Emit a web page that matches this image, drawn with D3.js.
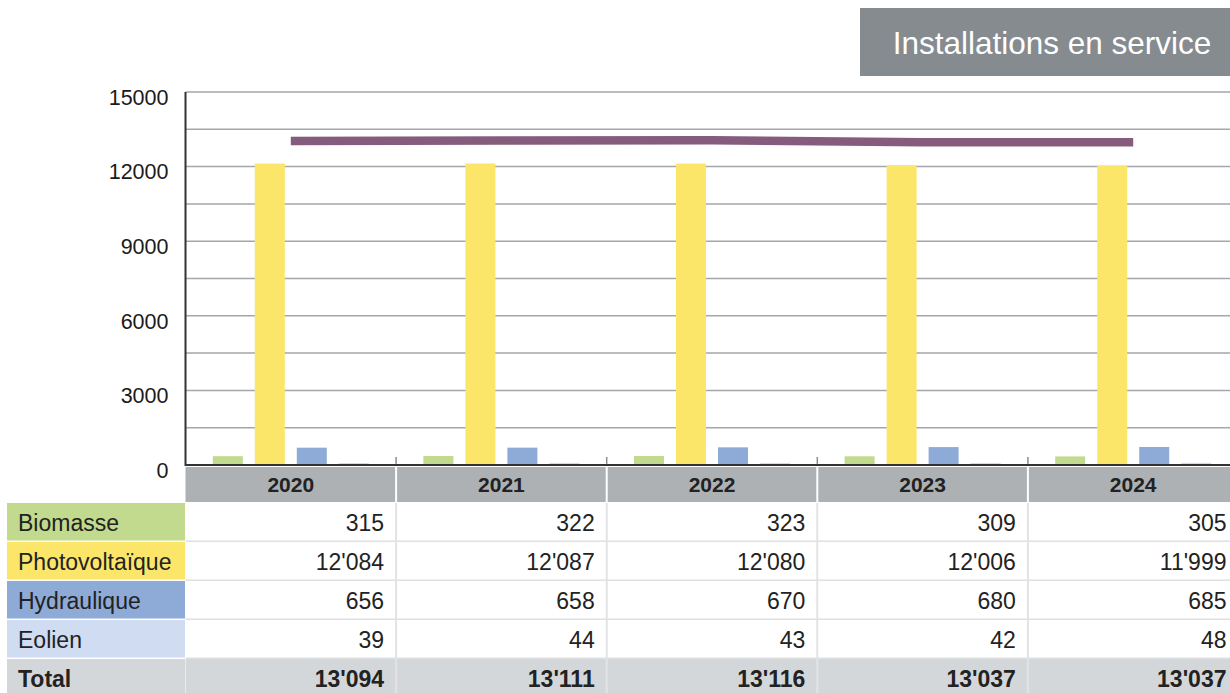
<!DOCTYPE html>
<html>
<head>
<meta charset="utf-8">
<script src="https://cdn.jsdelivr.net/npm/d3@7"></script>
<style>
  html, body { margin: 0; padding: 0; background: #ffffff; }
  svg { display: block; font-family: "Liberation Sans", Arial, sans-serif; }
</style>
</head>
<body>
<svg id="chart" width="1230" height="693"></svg>
<script>
// ---- Data ----
const years = ["2020", "2021", "2022", "2023", "2024"];
const seriesNames = ["Biomasse", "Photovoltaïque", "Hydraulique", "Eolien"];
const biomasse = [315, 322, 323, 309, 305];
const photovoltaique = [12084, 12087, 12080, 12006, 11999];
const hydraulique = [656, 658, 670, 680, 685];
const eolien = [39, 44, 43, 42, 48];
const total = [13094, 13111, 13116, 13037, 13037];
const yTickLabels = [0, 3000, 6000, 9000, 12000, 15000];
const gridValues = [0, 1500, 3000, 4500, 6000, 7500, 9000, 10500, 12000, 13500, 15000];
const title = "Installations en service";
const totalLabel = "Total";

const seriesValues = [biomasse, photovoltaique, hydraulique, eolien];
const seriesColors = ["#c1da8d", "#fbe66a", "#8eaad6", "#cfdcf2"];
const lineColor = "#855c7e";

// ---- Layout ----
const svg = d3.select("#chart");
const plotLeft = 185.5, plotRight = 1238.5, plotTop = 92, plotBottom = 465;

const x = d3.scaleBand().domain(years).range([plotLeft, plotRight]).padding(0);
const barW = 30, barStep = 42;
const groupW = barStep * (seriesNames.length - 1) + barW;
const xs = d3.scaleBand().domain(seriesNames)
  .range([(x.bandwidth() - groupW) / 2, (x.bandwidth() - groupW) / 2 + groupW])
  .paddingInner((barStep - barW) / barStep).paddingOuter(0);
const y = d3.scaleLinear().domain([0, 15000]).range([plotBottom, plotTop]);

const fmt = d3.formatLocale({ decimal: ".", thousands: "'", grouping: [3], currency: ["", ""] }).format(",d");

// Title box
svg.append("rect").attr("x", 860).attr("y", 8).attr("width", 380).attr("height", 68).attr("fill", "#868b90");
svg.append("text").attr("x", 1052).attr("y", 54).attr("text-anchor", "middle")
  .attr("fill", "#ffffff").attr("font-size", 31.5).text(title);

// Gridlines
svg.append("g").selectAll("line").data(gridValues.filter(v => v > 0)).join("line")
  .attr("x1", plotLeft).attr("x2", 1230)
  .attr("y1", d => y(d)).attr("y2", d => y(d))
  .attr("stroke", "#a3a7ab").attr("stroke-width", 1.5);

// Y axis
const yAxis = d3.axisLeft(y).tickValues(yTickLabels).tickSize(0).tickPadding(17).tickFormat(d3.format("d"));
const yg = svg.append("g").attr("transform", `translate(${plotLeft},0)`).call(yAxis);
yg.select(".domain").remove();
yg.selectAll("text").attr("font-size", 21.5).attr("fill", "#1a1a1a").attr("dy", "0.57em")
  .attr("font-family", "'Liberation Sans', Arial, sans-serif");
svg.append("line").attr("x1", plotLeft).attr("x2", plotLeft).attr("y1", plotTop).attr("y2", plotBottom + 1)
  .attr("stroke", "#333333").attr("stroke-width", 2);

// Category boundary ticks
svg.append("g").selectAll("line").data(years.slice(1)).join("line")
  .attr("x1", d => x(d)).attr("x2", d => x(d))
  .attr("y1", plotBottom - 8).attr("y2", plotBottom)
  .attr("stroke", "#8a8e92").attr("stroke-width", 1.5);

// Bars
const groups = svg.append("g").selectAll("g").data(years).join("g")
  .attr("transform", d => `translate(${x(d)},0)`);
groups.selectAll("rect").data((d, i) => seriesNames.map((s, k) => ({ s, k, v: seriesValues[k][i] }))).join("rect")
  .attr("x", d => xs(d.s)).attr("width", xs.bandwidth())
  .attr("y", d => y(d.v) - 1).attr("height", d => Math.max(1.5, plotBottom - y(d.v) + 1))
  .attr("fill", d => seriesColors[d.k]);

// Baseline
svg.append("line").attr("x1", plotLeft).attr("x2", 1230).attr("y1", plotBottom).attr("y2", plotBottom)
  .attr("stroke", "#333333").attr("stroke-width", 2);

// Total line
const line = d3.line().x((d, i) => x(years[i]) + x.bandwidth() / 2).y(d => y(d) + 1.5);
svg.append("path").datum(total).attr("d", line)
  .attr("fill", "none").attr("stroke", lineColor).attr("stroke-width", 8.5).attr("stroke-linecap", "butt");

// ---- Table ----
const headerTop = 467, headerH = 35;
const rowTop = 503, rowStep = 39, rowH = 37.5;
const labelLeft = 7;

// Header
svg.append("rect").attr("x", plotLeft).attr("y", headerTop).attr("width", plotRight - plotLeft).attr("height", headerH)
  .attr("fill", "#adb1b4");
svg.append("g").selectAll("text").data(years).join("text")
  .attr("x", d => x(d) + x.bandwidth() / 2).attr("y", headerTop + 25)
  .attr("text-anchor", "middle").attr("font-size", 21).attr("font-weight", "bold").attr("fill", "#222222")
  .text(d => d);
svg.append("g").selectAll("line").data(years.slice(1)).join("line")
  .attr("x1", d => x(d)).attr("x2", d => x(d)).attr("y1", headerTop).attr("y2", headerTop + headerH)
  .attr("stroke", "#ffffff").attr("stroke-width", 2);

const rows = seriesNames.map((s, k) => ({ label: s, values: seriesValues[k], color: seriesColors[k], bold: false }))
  .concat([{ label: totalLabel, values: total, color: "#d4d7d9", bold: true }]);

rows.forEach((r, ri) => {
  const ry = rowTop + ri * rowStep;
  // label cell
  svg.append("rect").attr("x", labelLeft).attr("y", ry).attr("width", plotLeft - labelLeft - 0.5).attr("height", rowH)
    .attr("fill", r.color);
  if (r.bold) {
    svg.append("rect").attr("x", plotLeft).attr("y", ry).attr("width", plotRight - plotLeft).attr("height", rowH + 2)
      .attr("fill", "#d4d7d9");
  }
  svg.append("text").attr("x", 18).attr("y", ry + 27.5).attr("font-size", 23)
    .attr("font-weight", r.bold ? "bold" : "normal").attr("fill", "#222222").text(r.label);
  svg.append("g").selectAll("text").data(r.values).join("text")
    .attr("x", (d, i) => x(years[i]) + x.bandwidth() - 12).attr("y", ry + 27.5)
    .attr("text-anchor", "end").attr("font-size", 23)
    .attr("font-weight", r.bold ? "bold" : "normal").attr("fill", "#222222")
    .text(d => fmt(d));
  // horizontal separator below row
  if (ri < rows.length - 1) {
    svg.append("line").attr("x1", plotLeft).attr("x2", plotRight).attr("y1", ry + rowH + 0.75).attr("y2", ry + rowH + 0.75)
      .attr("stroke", "#dfe0e1").attr("stroke-width", 1.5);
  }
});
// vertical separators in table body
svg.append("g").selectAll("line").data(years.slice(1)).join("line")
  .attr("x1", d => x(d)).attr("x2", d => x(d)).attr("y1", rowTop).attr("y2", 693)
  .attr("stroke", "#e2e3e4").attr("stroke-width", 2);
</script>
</body>
</html>
